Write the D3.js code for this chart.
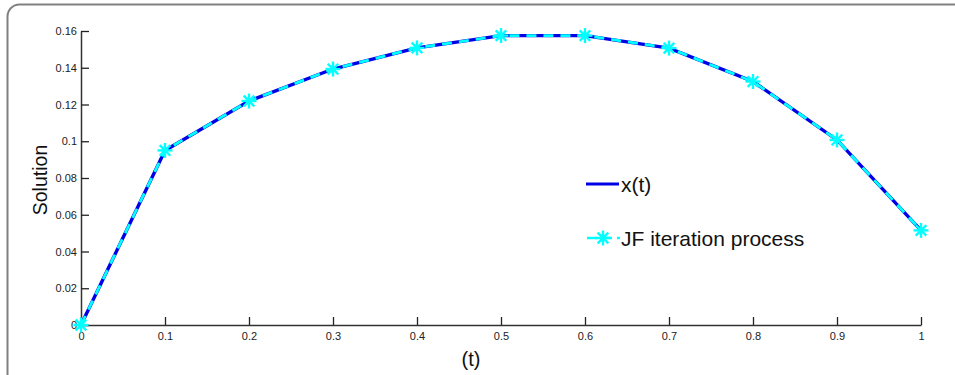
<!DOCTYPE html>
<html>
<head>
<meta charset="utf-8">
<script src="https://cdn.jsdelivr.net/npm/d3@7"></script>
<style>
  body { margin: 0; background: #fff; }
  svg { font-family: "Liberation Sans", Arial, sans-serif; }
</style>
</head>
<body>
<div id="chart"></div>
<script>
// data
const tValues = [0, 0.1, 0.2, 0.3, 0.4, 0.5, 0.6, 0.7, 0.8, 0.9, 1.0];
const exactX = [0, 0.0950, 0.1219, 0.1393, 0.1508, 0.1575, 0.1575, 0.1507, 0.1325, 0.1007, 0.0515];
const jfIter = [0, 0.0950, 0.1219, 0.1393, 0.1508, 0.1575, 0.1575, 0.1507, 0.1325, 0.1007, 0.0515];
const xTicks = [0, 0.1, 0.2, 0.3, 0.4, 0.5, 0.6, 0.7, 0.8, 0.9, 1];
const yTicks = [0, 0.02, 0.04, 0.06, 0.08, 0.1, 0.12, 0.14, 0.16];
const legendLabels = ['x(t)', 'JF iteration process'];

const width = 955, height = 375;
const svg = d3.select('#chart').append('svg')
  .attr('width', width)
  .attr('height', height);

// figure frame with rounded corner
svg.append('rect')
  .attr('x', 7.5).attr('y', 4.5)
  .attr('width', width + 20).attr('height', height + 20)
  .attr('rx', 12)
  .attr('fill', 'none')
  .attr('stroke', '#808080')
  .attr('stroke-width', 2);

const x = d3.scaleLinear().domain([0, 1]).range([81, 921]);
const y = d3.scaleLinear().domain([0, 0.16]).range([325, 31]);

const fmt = d => d3.format('~g')(d);
const xAxis = svg.append('g')
  .attr('transform', `translate(0,${y(0)})`)
  .call(d3.axisBottom(x).tickValues(xTicks).tickSizeInner(-8).tickSizeOuter(0).tickFormat(fmt));
const yAxis = svg.append('g')
  .attr('transform', `translate(${x(0)},0)`)
  .call(d3.axisLeft(y).tickValues(yTicks).tickSizeInner(-8).tickSizeOuter(0).tickFormat(fmt));

[xAxis, yAxis].forEach(g => {
  g.attr('font-size', null).attr('font-family', null);
  g.select('.domain').attr('stroke', '#333').attr('stroke-width', 1.5);
  g.selectAll('.tick line').attr('stroke', '#222').attr('stroke-width', 1.3);
  g.selectAll('.tick text').attr('fill', '#222')
    .style('font-size', '11px');
});
// y tick labels end just left of the axis, x tick labels below it
yAxis.selectAll('.tick text').attr('x', -4);
xAxis.selectAll('.tick text').attr('y', 7);

// axis titles
svg.append('text')
  .attr('x', 471).attr('y', 366)
  .attr('text-anchor', 'middle')
  .style('font-size', '20px')
  .attr('fill', '#111')
  .text('(t)');
svg.append('text')
  .attr('transform', 'translate(47,180) rotate(-90)')
  .attr('text-anchor', 'middle')
  .style('font-size', '19.5px')
  .attr('fill', '#111')
  .text('Solution');

const line = d3.line().x((d, i) => x(tValues[i])).y(d => y(d));

// exact solution, solid blue
svg.append('path')
  .datum(exactX)
  .attr('d', line)
  .attr('fill', 'none')
  .attr('stroke', '#0000e6')
  .attr('stroke-width', 3.4);

// JF iteration, cyan dashed on top
svg.append('path')
  .datum(jfIter)
  .attr('d', line)
  .attr('fill', 'none')
  .attr('stroke', '#00ffff')
  .attr('stroke-width', 2.8)
  .attr('stroke-dasharray', '10,7');

// asterisk marker
const star = (g, cx, cy, r) => {
  const a = g.append('g').attr('transform', `translate(${cx},${cy})`)
    .attr('stroke', '#00ffff').attr('stroke-width', 2.4).attr('stroke-linecap', 'butt');
  [0, 45, 90, 135].forEach(ang => {
    const rad = ang * Math.PI / 180;
    a.append('line')
      .attr('x1', -r * Math.cos(rad)).attr('y1', -r * Math.sin(rad))
      .attr('x2', r * Math.cos(rad)).attr('y2', r * Math.sin(rad));
  });
};
const markers = svg.append('g');
jfIter.forEach((v, i) => star(markers, x(tValues[i]), y(v), 7.5));

// legend
const leg = svg.append('g');
leg.append('line')
  .attr('x1', 586).attr('x2', 619).attr('y1', 184).attr('y2', 184)
  .attr('stroke', '#0000e6').attr('stroke-width', 3);
leg.append('text')
  .attr('x', 621).attr('y', 192)
  .style('font-size', '21px').attr('fill', '#111')
  .text(legendLabels[0]);
leg.append('line')
  .attr('x1', 587).attr('x2', 620).attr('y1', 238).attr('y2', 238)
  .attr('stroke', '#00ffff').attr('stroke-width', 2.6)
  .attr('stroke-dasharray', '10,5');
star(leg, 603, 238, 7.5);
leg.append('text')
  .attr('x', 621).attr('y', 246)
  .style('font-size', '21px').attr('fill', '#111')
  .text(legendLabels[1]);
</script>
</body>
</html>
